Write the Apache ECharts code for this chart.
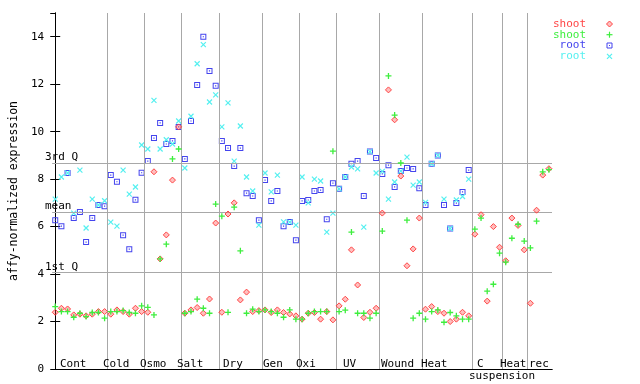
<!DOCTYPE html>
<html><head><meta charset="utf-8">
<script src="https://cdn.jsdelivr.net/npm/echarts@6/dist/echarts.min.js"></script>
<style>html,body{margin:0;padding:0;background:#fff}#c{width:640px;height:384px}</style>
</head><body><div id="c"></div>
<script>
const groupNames = ['Cont','Cold','Osmo','Salt','Dry','Gen','Oxi','UV','Wound','Heat','C','Heat','rec'];
const groupSizes = [9,6,6,6,7,6,6,7,7,8,5,4,4];
const subLabel = 'suspension';
const refNames = ['3rd Q','mean','1st Q'];
const refValues = [8.69,6.61,4.08];
const legendNames = ['shoot','shoot','root','root'];

const shoot1 = [2.39,2.56,2.53,2.28,2.31,2.24,2.31,2.42,2.42,
  2.31,2.49,2.42,2.31,2.56,2.42,
  2.39,8.31,4.64,5.65,7.96,10.2,
  2.35,2.49,2.59,2.35,2.95,6.15,
  2.39,6.53,7.0,2.91,3.24,2.42,2.46,
  2.49,2.38,2.49,2.38,2.32,2.24,
  2.10,2.35,2.38,2.10,2.42,2.07,
  2.66,2.94,5.02,3.54,2.17,2.39,2.56,
  6.57,11.76,10.5,8.13,4.35,5.06,6.36,
  2.52,2.63,2.42,2.35,2.0,2.10,2.39,2.24,
  5.68,6.50,2.86,6.0,5.13,
  4.56,6.36,6.05,5.02,
  2.77,6.69,8.17,8.44];
const shoot2 = [2.63,2.42,2.42,2.18,2.35,2.21,2.38,2.38,2.14,
  2.42,2.42,2.46,2.38,2.35,2.66,
  2.60,2.28,4.64,5.26,8.85,9.27,
  2.35,2.42,2.94,2.56,2.35,6.95,
  6.44,2.39,6.82,4.98,2.35,2.52,2.42,
  2.49,2.42,2.35,2.18,2.49,2.10,
  2.10,2.35,2.42,2.42,2.42,9.18,
  2.42,2.48,5.77,2.35,2.35,2.14,2.35,
  5.81,12.35,10.7,8.68,6.27,2.14,2.35,
  2.10,2.42,2.49,1.97,2.38,2.24,2.10,2.10,
  5.89,6.36,3.28,3.57,4.88,
  4.50,5.51,6.10,5.39,
  5.10,6.23,8.31,8.40];
const root1 = [6.27,6.02,8.26,6.36,6.61,5.35,6.36,6.91,6.86,
  8.17,7.89,5.64,5.05,7.13,8.27,
  8.76,9.73,10.37,9.48,9.61,10.2,
  8.85,10.45,11.97,14.0,12.56,11.93,
  9.61,9.31,8.55,9.31,7.41,7.29,6.27,
  7.96,7.08,7.50,6.02,6.19,5.43,
  7.08,7.12,7.50,7.54,6.31,7.83,
  7.59,8.09,8.65,8.76,7.29,9.16,8.89,
  8.22,8.59,7.67,8.34,8.47,8.43,7.62,
  6.91,8.65,9.0,6.91,5.92,6.99,7.46,8.38,
  null,null,null,null,null,null,null,null,null,null,null,null,null];
const root2 = [7.16,8.09,8.26,6.57,8.38,5.94,7.16,6.91,7.09,
  6.19,6.02,8.38,7.37,7.67,9.44,
  9.27,11.32,9.27,9.66,9.48,10.45,
  8.47,10.65,12.86,13.67,11.25,11.55,
  10.2,11.21,8.76,10.24,8.09,7.50,6.06,
  8.26,7.46,8.17,6.20,6.19,6.06,
  8.09,7.0,8.0,7.92,5.77,6.57,
  7.59,8.09,8.51,8.43,5.98,9.16,8.26,
  8.33,7.16,7.88,8.34,8.93,7.75,7.88,
  7.02,8.65,9.0,7.16,5.92,7.12,7.27,8.0,
  null,null,null,null,null,null,null,null,null,null,null,null,null];

const FONTF = 'DejaVu Sans Mono';
const FONT = '11px "DejaVu Sans Mono"';
const RED = '#ff4545', GREEN = '#3eee3e', BLUE = '#4444ee', CYAN = '#55f0f0';
const GRIDC = '#a8a8a8';
const nSlots = groupSizes.reduce((a, b) => a + b, 0);

const SYM = {
  diamond: 'path://M3,0L6,3L3,6L0,3Z',
  plus: 'path://M3,0V6M0,3H6',
  square: 'path://M0,0H6V6H0Z M1,1V5H5V1Z M2.4,2.4H3.6V3.6H2.4Z',
  cross: 'path://M0,0L5,5M5,0L0,5'
};

function pts(arr) {
  const out = [];
  arr.forEach((v, i) => { if (v != null) out.push([i, v]); });
  return out;
}

const bounds = [];
let acc = 0;
groupSizes.slice(0, -1).forEach(s => { acc += s; bounds.push(acc - 0.5); });

const chart = echarts.init(document.getElementById('c'), null, {renderer: 'canvas'});

const labelLeft = [60,103,140,177,223,263,296,343,381,421,477,500,529];
const graphic = [];
groupNames.forEach((g, i) => {
  graphic.push({type: 'text', x: labelLeft[i], y: 364, z: 20,
    style: {text: g, font: FONT, fill: '#000', verticalAlign: 'middle'}});
});
graphic.push({type: 'text', x: 502, y: 376, z: 20,
  style: {text: subLabel, font: FONT, fill: '#000', align: 'center', verticalAlign: 'middle'}});
const legColors = [RED, GREEN, BLUE, CYAN];
const legY = [24, 34.7, 45.5, 56.3];
legendNames.forEach((n, i) => {
  graphic.push({type: 'text', x: 586, y: legY[i], z: 20,
    style: {text: n, font: FONT, fill: legColors[i], align: 'right', verticalAlign: 'middle'}});
});
const ix = 609.5;
function gl(x1, y1, x2, y2, c) {
  return {type: 'line', z: 20, shape: {x1, y1, x2, y2}, style: {stroke: c, lineWidth: 1.2}};
}
graphic.push({type: 'polygon', z: 20, shape: {points: [[ix, legY[0]-3],[ix+3, legY[0]],[ix, legY[0]+3],[ix-3, legY[0]]]},
  style: {fill: 'rgba(255,69,69,0.35)', stroke: RED, lineWidth: 1}});
graphic.push(gl(ix, legY[1]-3, ix, legY[1]+3, GREEN));
graphic.push(gl(ix-3, legY[1], ix+3, legY[1], GREEN));
graphic.push({type: 'rect', z: 20, shape: {x: ix-2.5, y: legY[2]-2.5, width: 5, height: 5},
  style: {fill: 'none', stroke: BLUE, lineWidth: 1}});
graphic.push({type: 'rect', z: 20, shape: {x: ix-0.5, y: legY[2]-0.5, width: 1, height: 1},
  style: {fill: BLUE}});
graphic.push(gl(ix-2.5, legY[3]-2.5, ix+2.5, legY[3]+2.5, CYAN));
graphic.push(gl(ix+2.5, legY[3]-2.5, ix-2.5, legY[3]+2.5, CYAN));

const axisBase = {
  axisLine: {show: true, lineStyle: {color: '#000', width: 1}},
  splitLine: {show: false}
};

const markLineData = bounds.map(b => ({xAxis: b}))
  .concat(refValues.map(v => ({yAxis: v})));

const option = {
  animation: false,
  backgroundColor: '#fff',
  grid: {left: 44, right: 88, top: 13, bottom: 15},
  xAxis: [
    Object.assign({type: 'value', min: -0.5, max: nSlots - 0.5, position: 'bottom',
      axisTick: {show: false}, axisLabel: {show: false}}, axisBase),
    Object.assign({type: 'value', min: -0.5, max: nSlots - 0.5, position: 'top',
      axisTick: {show: false}, axisLabel: {show: false}}, axisBase)
  ],
  yAxis: [
    Object.assign({type: 'value', min: 0, max: 15, interval: 2, position: 'left',
      axisTick: {show: true, inside: true, length: 5, lineStyle: {color: '#000'}},
      axisLabel: {color: '#000', fontFamily: FONTF, fontSize: 11, margin: 8, showMaxLabel: false},
      name: 'affy-normalized expression', nameLocation: 'middle', nameGap: 31,
      nameTextStyle: {color: '#000', fontFamily: FONTF, fontSize: 11.5}}, axisBase),
    Object.assign({type: 'value', min: 0, max: 15, interval: 2, position: 'right',
      axisTick: {show: true, inside: true, length: 5, lineStyle: {color: '#000'}},
      axisLabel: {show: false}}, axisBase)
  ],
  graphic: graphic,
  series: [
    {type: 'scatter', data: [], z: 1, silent: true,
      markLine: {silent: true, symbol: ['none', 'none'], animation: false, label: {show: false},
        lineStyle: {color: GRIDC, width: 1, type: 'solid'}, data: markLineData}},
    {type: 'scatter', name: 'root', data: pts(root1), symbol: SYM.square, symbolSize: 6, z: 3,
      itemStyle: {color: BLUE, opacity: 1}},
    {type: 'scatter', name: 'root', data: pts(root2), symbol: SYM.cross, symbolSize: 5, z: 4,
      itemStyle: {color: 'rgba(0,0,0,0)', borderColor: CYAN, borderWidth: 1.2, opacity: 1}},
    {type: 'scatter', name: 'shoot', data: pts(shoot1), symbol: SYM.diamond, symbolSize: 6, z: 5,
      itemStyle: {color: 'rgba(255,69,69,0.35)', borderColor: RED, borderWidth: 1, opacity: 1}},
    {type: 'scatter', name: 'shoot', data: pts(shoot2), symbol: SYM.plus, symbolSize: 6, z: 6,
      itemStyle: {color: 'rgba(0,0,0,0)', borderColor: GREEN, borderWidth: 1.3, opacity: 1}}
  ]
};
chart.setOption(option);

refValues.forEach((v, i) => {
  const py = chart.convertToPixel({yAxisIndex: 0}, v);
  graphic.push({type: 'text', x: 45, y: py, z: 20,
    style: {text: refNames[i], font: FONT, fill: '#000', verticalAlign: 'bottom'}});
});
chart.setOption({graphic: graphic});
</script></body></html>
